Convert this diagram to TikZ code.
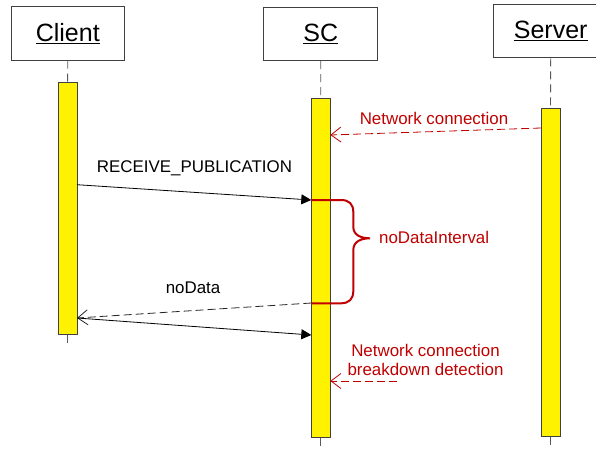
\documentclass[tikz,border=0pt]{standalone}
\usepackage{fontspec}
\setmainfont{Liberation Sans}
\usetikzlibrary{arrows.meta}
\definecolor{dred}{HTML}{C00000}
\definecolor{bord}{HTML}{404040}
\definecolor{lifegray}{HTML}{595959}
\begin{document}
\begin{tikzpicture}[x=1pt,y=-1pt,
 lifebox/.style={draw=bord, line width=1pt, fill=white, minimum width=113.5pt, minimum height=53.5pt, inner sep=0pt, font=\fontsize{25}{29}\selectfont},
 bar/.style={draw=bord, line width=0.9pt, fill=yellow, minimum width=19pt, inner sep=0pt},
 life/.style={draw=lifegray, line width=0.9pt, dash pattern=on 8pt off 5pt},
 sync/.style={draw=black, line width=0.8pt, -{Triangle[length=10pt,width=10pt]}},
 reply/.style={draw=black!85, line width=0.8pt, dash pattern=on 8pt off 4pt, -{Straight Barb[length=10pt,width=15pt]}},
 net/.style={draw=dred, line width=0.8pt, dash pattern=on 8pt off 4pt, -{Straight Barb[length=10pt,width=15pt]}},
 lbl/.style={font=\fontsize{16.9}{19}\selectfont, inner sep=0pt},
 rlbl/.style={lbl, text=dred, align=center}]
\clip (0,0) rectangle (596,448);
% heads
\node[lifebox] (client) at (67.8,33.4) {\underline{Client}};
\node[lifebox] (sc) at (320.7,33.8) {\underline{SC}};
\node[lifebox] (server) at (550.7,31.2) {\underline{Server}};
% bars
\node[bar, minimum height=251.7pt] (cbar) at (67.6,208.2) {};
\node[bar, minimum height=339.4pt] (sbar) at (320.8,268) {};
\node[bar, minimum height=327.7pt] (vbar) at (550.5,272.2) {};
% lifeline ends
\coordinate (cend) at (67.6,344);
\coordinate (send) at (320.8,450);
\coordinate (vend) at (550.5,450);
\draw[life] (client.south) -- (cbar.north);
\draw[life] (sc.south) -- (sbar.north);
\draw[life] (server.south) -- (vbar.north);
\draw[life] (cbar.south) -- (cend);
\draw[life] (sbar.south) -- (send);
\draw[life] (vbar.south) -- (vend);
% message points
\coordinate (m1s) at (77,184.7);
\coordinate (m1e) at (311.3,200);
\coordinate (m2s) at (311.3,303);
\coordinate (m2e) at (77,318);
\coordinate (m3e) at (311.3,335);
\coordinate (n1s) at (541,128);
\coordinate (n1e) at (330.3,135);
\coordinate (n2s) at (397,381);
\coordinate (n2e) at (330.3,381);
\draw[sync] (m1s) -- (m1e);
\draw[reply] (m2s) -- (m2e);
\draw[sync] (m2e) -- (m3e);
\draw[net] (n1s) -- (n1e);
\draw[net] (n2s) -- (n2e);
% brace
\draw[dred, line width=2pt] (311.3,200) -- (341,200)
  .. controls (349,200) and (353.3,204) .. (353.3,212) -- (353.3,227)
  .. controls (353.3,235) and (361,238.3) .. (370,238.3)
  .. controls (361,238.3) and (353.3,241.5) .. (353.3,250) -- (353.3,291)
  .. controls (353.3,299) and (349,303.3) .. (341,303.3) -- (311.3,303.3);
% labels
\node[lbl] (t1) at (194.5,168) {RECEIVE\_PUBLICATION};
\node[lbl] (t2) at (193,288) {noData};
\node[rlbl] (t3) at (434,118) {Network connection};
\node[rlbl, anchor=west] (t4) at (379,237) {noDataInterval};
\node[rlbl] (t5) at (425.5,359.5) {Network connection\\breakdown detection};
\end{tikzpicture}
\end{document}
